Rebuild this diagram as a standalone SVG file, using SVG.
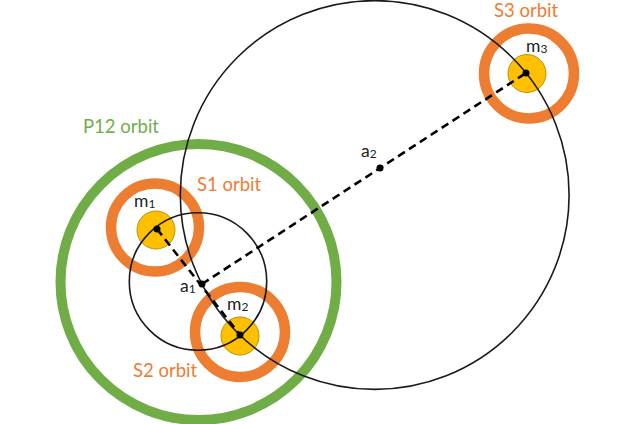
<svg xmlns="http://www.w3.org/2000/svg" width="638" height="424" viewBox="0 0 638 424">
<style>
.ring{fill:none;stroke:#ED7D31;stroke-width:10.5}
.p12{fill:none;stroke:#70AD47;stroke-width:10}
.orb{fill:none;stroke:#1a1a1a;stroke-width:1.6}
.body{fill:#FFC000;stroke:#B8920A;stroke-width:1}
.dot{fill:#000}
.dash{fill:none;stroke:#000;stroke-width:2.6;stroke-dasharray:8 5}
.lbl{font-family:Lato,"Open Sans","Liberation Sans",sans-serif;font-size:17.5px;fill:#222}
.sub{font-size:12px}
.olbl{font-family:Lato,"Open Sans","Liberation Sans",sans-serif;font-size:18.5px;fill:#ED7D31}
.glbl{font-family:Lato,"Open Sans","Liberation Sans",sans-serif;font-size:18.5px;fill:#70AD47}
</style>
<rect width="638" height="424" fill="#fff"/>
<g id="P12-orbit">
<circle class="p12" cx="198.5" cy="282" r="138"/>
<text class="glbl" x="83" y="133">P12 orbit</text>
</g>
<g id="S1-orbit">
<circle class="ring" cx="155" cy="227.5" r="44"/>
<text class="olbl" x="197" y="191">S1 orbit</text>
</g>
<g id="S2-orbit">
<circle class="ring" cx="240" cy="332" r="45"/>
<text class="olbl" x="133" y="377">S2 orbit</text>
</g>
<g id="S3-orbit">
<circle class="ring" cx="529" cy="73.5" r="45"/>
<text class="olbl" x="494" y="17">S3 orbit</text>
</g>
<g id="m1-body"><circle class="body" cx="156" cy="230" r="19"/></g>
<g id="m2-body"><circle class="body" cx="240" cy="336" r="19"/></g>
<g id="m3-body"><circle class="body" cx="527" cy="73.5" r="19"/></g>
<g id="orbits">
<circle class="orb" cx="374.7" cy="195" r="194.4"/>
<circle class="orb" cx="198" cy="281.5" r="68.7"/>
</g>
<g id="connectors">
<line class="dash" x1="157" y1="229" x2="240" y2="335"/>
<line class="dash" x1="202" y1="284" x2="526" y2="73"/>
</g>
<g id="m1">
<circle class="dot" cx="157" cy="229" r="3.5"/>
<text class="lbl" x="134" y="207">m<tspan class="sub" dy="1">1</tspan></text>
</g>
<g id="m2">
<circle class="dot" cx="240" cy="335" r="3.5"/>
<text class="lbl" x="227" y="310">m<tspan class="sub" dy="1">2</tspan></text>
</g>
<g id="m3">
<circle class="dot" cx="526" cy="73" r="3.5"/>
<text class="lbl" x="526" y="52">m<tspan class="sub" dy="1">3</tspan></text>
</g>
<g id="a1">
<circle class="dot" cx="202" cy="284" r="3.5"/>
<text class="lbl" x="180" y="292">a<tspan class="sub" dy="1">1</tspan></text>
</g>
<g id="a2">
<circle class="dot" cx="380" cy="168" r="3.5"/>
<text class="lbl" x="361" y="157">a<tspan class="sub" dy="1">2</tspan></text>
</g>
</svg>
